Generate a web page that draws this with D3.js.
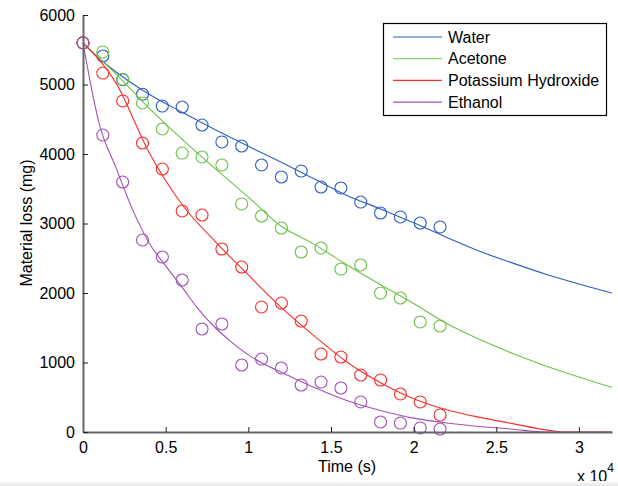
<!DOCTYPE html>
<html>
<head>
<meta charset="utf-8">
<script src="https://cdn.jsdelivr.net/npm/d3@7"></script>
<style>
  body { margin: 0; background: #fff; }
  svg { display: block; font-family: "Liberation Sans", Arial, sans-serif; }
</style>
</head>
<body>
<div id="chart"></div>
<script>
// measured samples, time in seconds
const sampleTimes = [0, 1200, 2400, 3600, 4800, 6000, 7200, 8400, 9600, 10800,
  12000, 13200, 14400, 15600, 16800, 18000, 19200, 20400, 21600];
const waterPts = [5600, 5410, 5070, 4860, 4690, 4676, 4417, 4173, 4115, 3842,
  3669, 3755, 3525, 3511, 3309, 3151, 3094, 3007, 2950];
const acetonePts = [5600, 5468, 5075, 4734, 4360, 4014, 3957, 3842, 3281, 3108,
  2935, 2590, 2647, 2345, 2403, 1999, 1928, 1583, 1525];
const kohPts = [5600, 5165, 4763, 4158, 3784, 3180, 3122, 2633, 2374, 1799,
  1856, 1597, 1122, 1079, 820, 748, 547, 432, 245];
const ethanolPts = [5600, 4273, 3597, 2763, 2518, 2187, 1482, 1554, 964, 1050,
  921, 676, 719, 633, 432, 144, 129, 58, 43];

// fitted curves
const waterFitT = [0, 1000, 2000, 4000, 6000, 8000, 10000, 12000, 14000, 16000, 18000,
  20000, 22000, 24000, 26000, 28000, 30000, 32000];
const waterFit = [5600, 5370, 5180, 4860, 4600, 4350, 4110, 3880, 3640, 3400, 3210,
  3010, 2800, 2600, 2430, 2270, 2130, 2000];
const acetoneFitT = [0, 2000, 4000, 6000, 8000, 10000, 12000, 14000, 16000, 18000,
  20000, 22000, 24000, 26000, 28000, 30000, 32000];
const acetoneFit = [5600, 5150, 4660, 4210, 3790, 3380, 2960, 2700, 2400, 2120,
  1850, 1560, 1330, 1130, 950, 790, 640];
const kohFitT = [0, 2000, 4000, 6000, 8000, 10000, 12000, 14000, 16000, 18000,
  20000, 22000, 24000, 26000, 28000, 29000, 32000];
const kohFit = [5600, 5020, 4020, 3270, 2740, 2260, 1790, 1380, 1000, 710,
  480, 320, 210, 120, 30, 0, 0];
const ethanolFitT = [0, 1000, 2000, 3000, 4000, 5000, 6000, 7000, 8000, 9000, 10000,
  11000, 12000, 14000, 16000, 18000, 20000, 22000, 24000, 26000, 28000, 32000];
const ethanolFit = [5600, 4420, 3800, 3200, 2720, 2390, 2080, 1760, 1500, 1290, 1110,
  970, 860, 640, 450, 310, 200, 130, 80, 40, 0, 0];

const seriesNames = ['Water', 'Acetone', 'Potassium Hydroxide', 'Ethanol'];
const seriesColors = ['#2f5fc0', '#6cc246', '#f5302d', '#a052b6'];
const xTicks = [0, 5000, 10000, 15000, 20000, 25000, 30000];
const yTicks = [0, 1000, 2000, 3000, 4000, 5000, 6000];

const series = [
  { pts: waterPts, fitT: waterFitT, fit: waterFit },
  { pts: acetonePts, fitT: acetoneFitT, fit: acetoneFit },
  { pts: kohPts, fitT: kohFitT, fit: kohFit },
  { pts: ethanolPts, fitT: ethanolFitT, fit: ethanolFit },
];

const W = 618, H = 486;
const m = { left: 83, right: 6, top: 15, bottom: 54 };

const svg = d3.select('#chart').append('svg').attr('width', W).attr('height', H);

const x = d3.scaleLinear().domain([0, 32000]).range([m.left, W - m.right]);
const y = d3.scaleLinear().domain([0, 6000]).range([H - m.bottom, m.top]);

const line = d3.line().x((d) => x(d[0])).y((d) => y(d[1])).curve(d3.curveMonotoneX);

const plot = svg.append('g');
series.forEach((s, i) => {
  plot.append('path')
    .datum(s.fitT.map((t, j) => [t, s.fit[j]]))
    .attr('d', line)
    .attr('fill', 'none')
    .attr('stroke', seriesColors[i])
    .attr('stroke-width', 1.1);
  plot.append('g')
    .selectAll('circle')
    .data(sampleTimes.map((t, j) => [t, s.pts[j]]))
    .join('circle')
    .attr('cx', (d) => x(d[0]))
    .attr('cy', (d) => y(d[1]))
    .attr('r', 6)
    .attr('fill', 'none')
    .attr('stroke', seriesColors[i])
    .attr('stroke-width', 1.1);
});

// axes, inward ticks
const axisColor = '#666';
const xAxis = svg.append('g')
  .attr('transform', `translate(0,${H - m.bottom})`)
  .call(d3.axisBottom(x).tickValues(xTicks).tickSizeInner(-5).tickSizeOuter(0)
    .tickPadding(10).tickFormat((d) => d3.format('~g')(d / 10000)));
const yAxis = svg.append('g')
  .attr('transform', `translate(${m.left},0)`)
  .call(d3.axisLeft(y).tickValues(yTicks).tickSizeInner(-5).tickSizeOuter(0)
    .tickPadding(8).tickFormat(d3.format('d')));
[xAxis, yAxis].forEach((g) => {
  g.select('.domain').attr('stroke', axisColor).attr('stroke-width', 2);
  g.selectAll('.tick line').attr('stroke', '#222');
  g.selectAll('.tick text').attr('fill', '#000').style('font-size', '16px')
    .style('font-family', '"Liberation Sans", Arial, sans-serif');
});

svg.append('text')
  .attr('x', 347).attr('y', 472)
  .attr('text-anchor', 'middle')
  .style('font-size', '16px')
  .text('Time (s)');

svg.append('text')
  .attr('transform', 'translate(32,223) rotate(-90)')
  .attr('text-anchor', 'middle')
  .style('font-size', '16px')
  .text('Material loss (mg)');

const expo = svg.append('text').attr('x', 577).attr('y', 482).style('font-size', '16px');
expo.append('tspan').text('x 10');
expo.append('tspan').attr('dy', -10).style('font-size', '12px').text('4');

// legend
const lg = svg.append('g');
lg.append('rect')
  .attr('x', 383.5).attr('y', 23.5).attr('width', 223).attr('height', 92)
  .attr('fill', '#fff').attr('stroke', '#000').attr('stroke-width', 1.2);
seriesNames.forEach((name, i) => {
  const cy = 37 + i * 21.7;
  lg.append('line')
    .attr('x1', 393).attr('x2', 442).attr('y1', cy).attr('y2', cy)
    .attr('stroke', seriesColors[i]).attr('stroke-width', 1.1);
  lg.append('text')
    .attr('x', 448).attr('y', cy + 5.5)
    .style('font-size', '16px')
    .text(name);
});

// faint strip at bottom edge of the capture
const grad = svg.append('defs').append('linearGradient')
  .attr('id', 'edge').attr('x1', 0).attr('x2', 0).attr('y1', 0).attr('y2', 1);
grad.append('stop').attr('offset', 0).attr('stop-color', '#fff');
grad.append('stop').attr('offset', 1).attr('stop-color', '#e4e4e4');
svg.append('rect').attr('x', 0).attr('y', 481).attr('width', W).attr('height', 5)
  .attr('fill', 'url(#edge)');
</script>
</body>
</html>
